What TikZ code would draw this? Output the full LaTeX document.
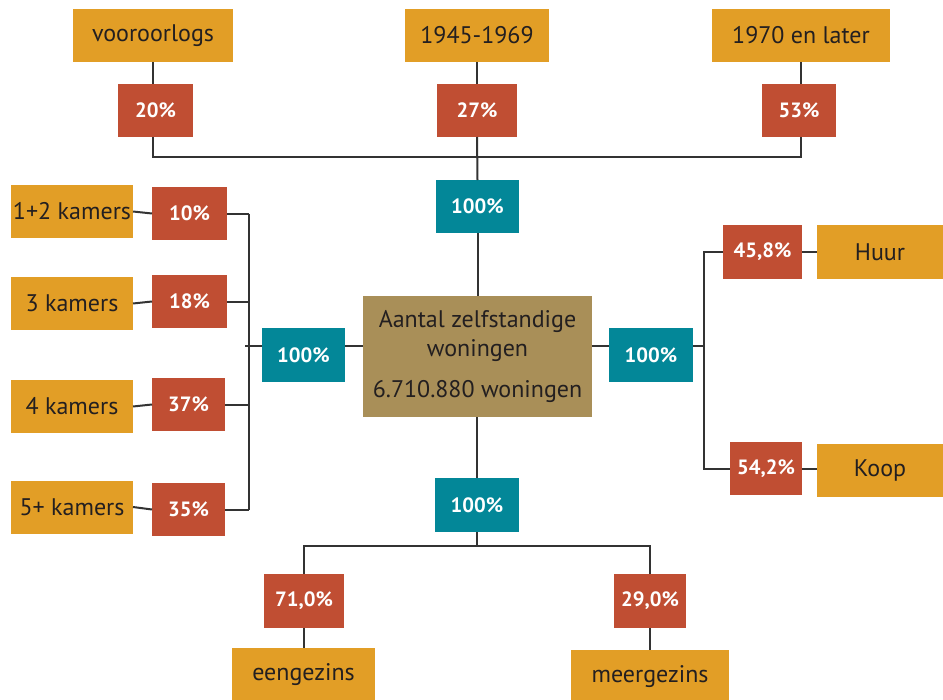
\documentclass[tikz,border=0pt]{standalone}
\usepackage{fontspec}
\setmainfont{PT Sans}
\definecolor{cyel}{HTML}{E29E26}
\definecolor{cred}{HTML}{C04E33}
\definecolor{cteal}{HTML}{038798}
\definecolor{ctan}{HTML}{A98F58}
\definecolor{cline}{HTML}{333333}
\definecolor{ctext}{HTML}{231F20}
\begin{document}
\begin{tikzpicture}[x=0.75pt,y=-0.75pt,
  bx/.style 2 args={minimum width=#1*0.75pt, minimum height=#2*0.75pt, inner sep=0pt, outer sep=0pt, anchor=center},
  cat/.style={fill=cyel, text=ctext, font=\fontsize{18}{21}\selectfont},
  pct/.style={fill=cred, text=white, font=\fontsize{15.5}{18}\selectfont\bfseries},
  tot/.style={fill=cteal, text=white, font=\fontsize{15.5}{18}\selectfont\bfseries},
  ctrbox/.style={fill=ctan, text=ctext, align=center, font=\fontsize{18}{21.5}\selectfont},
  conn/.style={draw=cline, line width=1.5pt}]
\useasboundingbox (0,0) rectangle (943,700);
\fill[white] (0,0) rectangle (943,700);
% top
\node[cat, bx={160}{53}] (voor) at (153,35.5) {vooroorlogs};
\node[cat, bx={144}{53}] (y45) at (477,35.5) {1945-1969};
\node[cat, bx={178}{53}] (y70) at (801,35.5) {1970 en later};
\node[pct, bx={75}{53}] (p20) at (155.5,110.5) {20\%};
\node[pct, bx={80}{53}] (p27) at (477,110.5) {27\%};
\node[pct, bx={74}{53}] (p53) at (799,110.5) {53\%};
\node[tot, bx={83}{53}] (ttop) at (477.5,206.5) {100\%};
\coordinate (hbus) at (0,157);
% centre
\node[ctrbox, bx={229}{121}] (ctr) at (477.5,356.5) {Aantal zelfstandige\\woningen\\[9pt]6.710.880 woningen};
\coordinate (hmid) at (0,346);
% left
\node[cat, bx={122}{53}] (k12) at (72,211.5) {1+2 kamers};
\node[cat, bx={122}{53}] (k3) at (72,303.5) {3 kamers};
\node[cat, bx={122}{53}] (k4) at (72,406.5) {4 kamers};
\node[cat, bx={122}{53}] (k5) at (72,507) {5+ kamers};
\node[pct, bx={75}{53}] (p10) at (189.5,213.5) {10\%};
\node[pct, bx={75}{53}] (p18) at (189.5,301.5) {18\%};
\node[pct, bx={73}{53}] (p37) at (188.5,404.5) {37\%};
\node[pct, bx={73}{53}] (p35) at (188.5,509.5) {35\%};
\node[tot, bx={83}{54}] (tl) at (303.5,355) {100\%};
\coordinate (lbus) at (249,0);
\coordinate (ltick) at (245,0);
% right
\node[tot, bx={84}{54}] (tr) at (651,355) {100\%};
\node[pct, bx={79}{54}] (p458) at (762.5,252) {45,8\%};
\node[pct, bx={72}{53}] (p542) at (766,468.5) {54,2\%};
\node[cat, bx={126}{54}] (huur) at (880,252) {Huur};
\node[cat, bx={126}{53}] (koop) at (880,470.5) {Koop};
\coordinate (rbus) at (704,0);
% bottom
\node[tot, bx={84}{54}] (tb) at (477,505) {100\%};
\node[pct, bx={80}{54}] (p71) at (304,601) {71,0\%};
\node[pct, bx={72}{54}] (p29) at (650,601) {29,0\%};
\node[cat, bx={143}{54}] (eeng) at (303.5,675) {eengezins};
\node[cat, bx={158}{54}] (meer) at (650,677) {meergezins};
\coordinate (bbus) at (0,546);
% connectors top
\draw[conn] (voor.south) -- (voor.south |- p20.north);
\draw[conn] (y45.south) -- (y45.south |- p27.north);
\draw[conn] (y70.south) -- (y70.south |- p53.north);
\draw[conn] (voor.south |- p20.south) -- (voor.south |- hbus) -- (y70.south |- hbus) -- (y70.south |- p53.south);
\draw[conn] (p27.south) -- (ttop.north);
\draw[conn] (ttop.south) -- (ctr.north -| ttop.south);
% left
\foreach \a/\b in {k12/p10,k3/p18,k4/p37,k5/p35}{
  \draw[conn] (\a.east) -- (\b.west);
  \draw[conn] (\b.east) -- (\b.east -| lbus);
}
\draw[conn] (p10.east -| lbus) -- (p35.east -| lbus);
\draw[conn] (ltick |- hmid) -- (tl.west |- hmid);
\draw[conn] (tl.east |- hmid) -- (ctr.west |- hmid);
% right
\draw[conn] (ctr.east |- hmid) -- (tr.west |- hmid);
\draw[conn] (tr.east |- hmid) -- (rbus |- hmid);
\draw[conn] (p458.west) -- (p458.west -| rbus) -- (p542.west -| rbus) -- (p542.west);
\draw[conn] (p458.east) -- (huur.west |- p458.east);
\draw[conn] (p542.east) -- (koop.west |- p542.east);
% bottom
\draw[conn] (ctr.south -| tb.north) -- (tb.north);
\draw[conn] (tb.south) -- (tb.south |- bbus);
\draw[conn] (p71.north) -- (p71.north |- bbus) -- (p29.north |- bbus) -- (p29.north);
\draw[conn] (p71.south) -- (eeng.north -| p71.south);
\draw[conn] (p29.south) -- (meer.north -| p29.south);
\end{tikzpicture}
\end{document}
